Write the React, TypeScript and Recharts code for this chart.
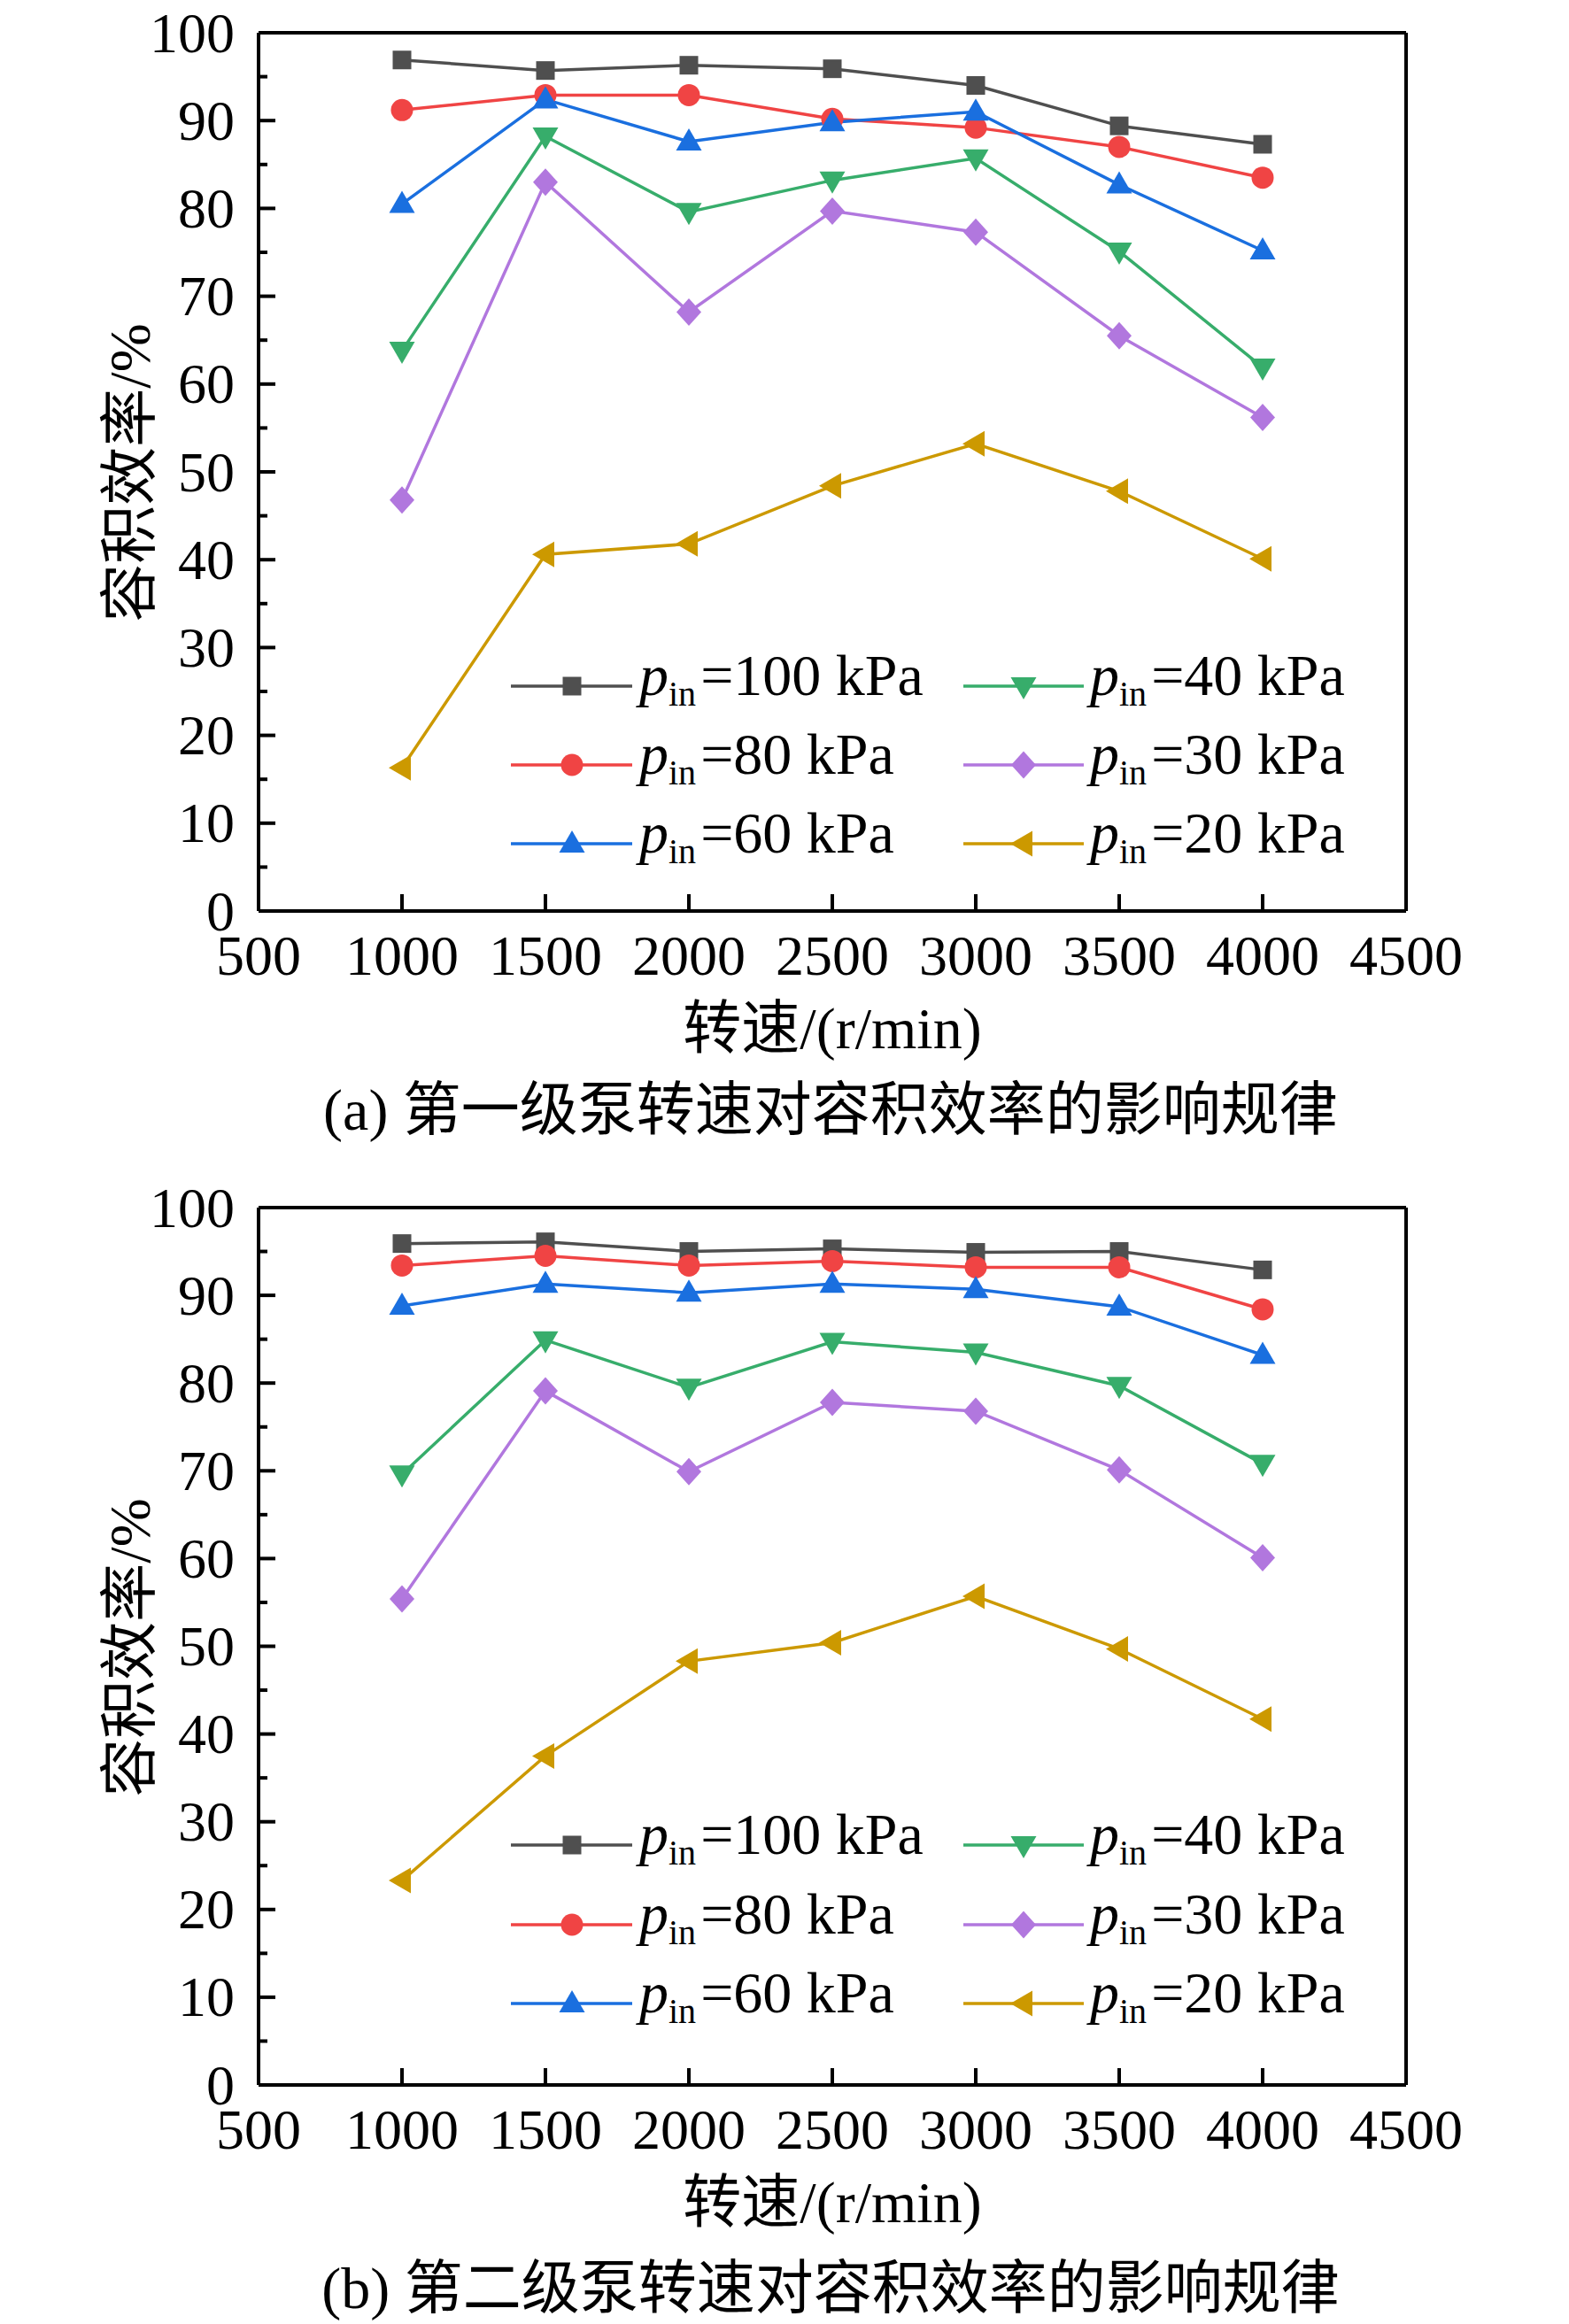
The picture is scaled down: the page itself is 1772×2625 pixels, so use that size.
import React from 'react';
import { LineChart, Line, XAxis, YAxis, ReferenceLine, Legend } from 'recharts';

// ---------- data ----------
const speeds = [1000, 1500, 2000, 2500, 3000, 3500, 4000];
const xTicks = [500, 1000, 1500, 2000, 2500, 3000, 3500, 4000, 4500];
const yTicks = [0, 5, 10, 15, 20, 25, 30, 35, 40, 45, 50, 55, 60, 65, 70, 75, 80, 85, 90, 95, 100];
const pressureLabels = ['100', '80', '60', '40', '30', '20'];

// (a) first stage pump
const stage1P100 = [96.9, 95.7, 96.3, 95.9, 94.0, 89.4, 87.3];
const stage1P80 = [91.2, 92.9, 92.9, 90.2, 89.2, 87.0, 83.5];
const stage1P60 = [80.5, 92.4, 87.6, 89.8, 91.0, 82.7, 75.2];
const stage1P40 = [63.8, 88.2, 79.6, 83.2, 85.7, 75.1, 61.9];
const stage1P30 = [46.8, 83.0, 68.2, 79.7, 77.3, 65.5, 56.2];
const stage1P20 = [16.3, 40.6, 41.8, 48.4, 53.2, 47.8, 40.1];

// (b) second stage pump
const stage2P100 = [95.9, 96.1, 95.0, 95.3, 94.9, 95.0, 92.9];
const stage2P80 = [93.4, 94.5, 93.4, 93.9, 93.2, 93.2, 88.4];
const stage2P60 = [88.8, 91.3, 90.3, 91.3, 90.7, 88.7, 83.2];
const stage2P40 = [69.6, 84.9, 79.5, 84.7, 83.5, 79.7, 70.8];
const stage2P30 = [55.4, 79.1, 69.9, 77.8, 76.8, 70.1, 60.1];
const stage2P20 = [23.3, 37.5, 48.3, 50.4, 55.7, 49.7, 41.7];

const yTitle = '容积效率/%';
const xTitle = '转速/(r/min)';
const captionA = '(a) 第一级泵转速对容积效率的影响规律';
const captionB = '(b) 第二级泵转速对容积效率的影响规律';

// ---------- styles ----------
const FONT = "'Liberation Serif', 'Times New Roman', 'Noto Sans CJK SC', serif";
const seriesKeys = ['p100', 'p80', 'p60', 'p40', 'p30', 'p20'];
const seriesColors = ['#4f4f4f', '#f04444', '#1a6fdf', '#37ad6b', '#b177de', '#cc9900'];
const seriesShapes = ['square', 'circle', 'up', 'down', 'diamond', 'left'];

function buildRows(cols: number[][]) {
  return speeds.map((s, i) => {
    const row: Record<string, number> = { speed: s };
    seriesKeys.forEach((k, j) => {
      row[k] = cols[j][i];
    });
    return row;
  });
}

const rowsA = buildRows([stage1P100, stage1P80, stage1P60, stage1P40, stage1P30, stage1P20]);
const rowsB = buildRows([stage2P100, stage2P80, stage2P60, stage2P40, stage2P30, stage2P20]);

function Marker({ shape, cx, cy, color }: { shape: string; cx: number; cy: number; color: string }) {
  switch (shape) {
    case 'square':
      return <rect x={cx - 10.5} y={cy - 10.5} width={21} height={21} fill={color} />;
    case 'circle':
      return <circle cx={cx} cy={cy} r={12.5} fill={color} />;
    case 'up':
      return <polygon points={`${cx},${cy - 15} ${cx - 14.5},${cy + 10} ${cx + 14.5},${cy + 10}`} fill={color} />;
    case 'down':
      return <polygon points={`${cx},${cy + 15} ${cx - 14.5},${cy - 10} ${cx + 14.5},${cy - 10}`} fill={color} />;
    case 'diamond':
      return <polygon points={`${cx},${cy - 15.5} ${cx + 14},${cy} ${cx},${cy + 15.5} ${cx - 14},${cy}`} fill={color} />;
    case 'left':
      return <polygon points={`${cx - 15},${cy} ${cx + 10},${cy - 14.5} ${cx + 10},${cy + 14.5}`} fill={color} />;
    default:
      return null;
  }
}

const makeDot = (shape: string, color: string) => (props: any) => {
  const { cx, cy, index } = props;
  if (cx == null || cy == null) return <g key={`${shape}-${index}`} />;
  return (
    <g key={`${shape}-${index}`}>
      <Marker shape={shape} cx={cx} cy={cy} color={color} />
    </g>
  );
};

const XTick = (props: any) => {
  const { x, y, payload } = props;
  return (
    <g>
      <line x1={x} x2={x} y1={y} y2={y - 19} stroke="#000" strokeWidth={4} />
      <text x={x} y={y + 50} textAnchor="middle" dominantBaseline="central" fontSize={64} fontFamily={FONT} fill="#000">
        {payload.value}
      </text>
    </g>
  );
};

const YTick = (props: any) => {
  const { x, y, payload } = props;
  const major = payload.value % 10 === 0;
  return (
    <g>
      <line x1={x} x2={x + (major ? 19 : 10)} y1={y} y2={y} stroke="#000" strokeWidth={4} />
      {major ? (
        <text x={x - 27} y={y} textAnchor="end" dominantBaseline="central" fontSize={64} fontFamily={FONT} fill="#000">
          {payload.value}
        </text>
      ) : null}
    </g>
  );
};

const LEG_LEFT = 560;
const LegendBox = ({ rowYs }: { rowYs: number[] }) => {
  const cols = [
    { lineX1: 577, lineX2: 714, markX: 646, textX: 722 },
    { lineX1: 1088, lineX2: 1224, markX: 1156, textX: 1231 },
  ];
  return (
    <svg width={1000} height={320} style={{ overflow: 'visible', display: 'block' }}>
      {seriesKeys.map((k, i) => {
        const c = cols[Math.floor(i / 3)];
        const ry = rowYs[i % 3];
        const color = seriesColors[i];
        return (
          <g key={k}>
            <line x1={c.lineX1 - LEG_LEFT} x2={c.lineX2 - LEG_LEFT} y1={ry} y2={ry} stroke={color} strokeWidth={3.5} />
            <Marker shape={seriesShapes[i]} cx={c.markX - LEG_LEFT} cy={ry} color={color} />
            <text x={c.textX - LEG_LEFT} y={ry + 10} fontSize={66} fontFamily={FONT} fill="#000">
              <tspan fontStyle="italic">p</tspan>
              <tspan fontSize={40} dy={12}>in</tspan>
              <tspan dy={-12} dx={5}>{`=${pressureLabels[i]} kPa`}</tspan>
            </text>
          </g>
        );
      })}
    </svg>
  );
};

function Panel({ rows, height, bottom, legTop, rowYs }: { rows: any[]; height: number; bottom: number; legTop: number; rowYs: number[] }) {
  return (
    <LineChart width={1772} height={height} data={rows} margin={{ top: 37, right: 184, bottom, left: 0 }}>
      <XAxis
        dataKey="speed"
        type="number"
        domain={[500, 4500]}
        ticks={xTicks}
        interval={0}
        tickSize={0}
        tickMargin={0}
        tickLine={false}
        axisLine={{ stroke: '#000', strokeWidth: 4 }}
        tick={<XTick />}
        height={60}
      />
      <YAxis
        type="number"
        domain={[0, 100]}
        ticks={yTicks}
        interval={0}
        tickSize={0}
        tickMargin={0}
        tickLine={false}
        axisLine={{ stroke: '#000', strokeWidth: 4 }}
        tick={<YTick />}
        width={292}
      />
      <ReferenceLine y={100} stroke="#000" strokeWidth={4} />
      <ReferenceLine x={4500} stroke="#000" strokeWidth={4} />
      {seriesKeys.map((k, i) => (
        <Line
          key={k}
          type="linear"
          dataKey={k}
          name={`pin=${pressureLabels[i]} kPa`}
          stroke={seriesColors[i]}
          strokeWidth={3.5}
          dot={makeDot(seriesShapes[i], seriesColors[i])}
          activeDot={false}
          isAnimationActive={false}
        />
      ))}
      <Legend
        layout="vertical"
        verticalAlign="middle"
        align="center"
        wrapperStyle={{ position: 'absolute', left: LEG_LEFT, top: legTop, width: 1000, height: 320 }}
        content={() => <LegendBox rowYs={rowYs} />}
      />
    </LineChart>
  );
}

export default function App() {
  const textProps = { fontSize: 66, fontFamily: FONT, fill: '#000', textAnchor: 'middle' as const, dominantBaseline: 'central' as const };
  return (
    <div style={{ position: 'absolute', left: 0, top: 0, width: 1772, height: 2625, background: '#fff' }}>
      <div style={{ position: 'absolute', left: 0, top: 0 }}>
        <Panel rows={rowsA} height={1327} bottom={238} legTop={700} rowYs={[75, 164, 253]} />
      </div>
      <div style={{ position: 'absolute', left: 0, top: 1327 }}>
        <Panel rows={rowsB} height={1298} bottom={210} legTop={680} rowYs={[77, 167, 256]} />
      </div>
      <svg width={1772} height={2625} style={{ position: 'absolute', left: 0, top: 0, pointerEvents: 'none' }}>
        <text {...textProps} transform="translate(146,534) rotate(-90)">{yTitle}</text>
        <text {...textProps} transform="translate(146,1861) rotate(-90)">{yTitle}</text>
        <text {...textProps} x={940} y={1161}>{xTitle}</text>
        <text {...textProps} x={940} y={2487}>{xTitle}</text>
        <text {...textProps} x={938} y={1253}>{captionA}</text>
        <text {...textProps} x={938} y={2584}>{captionB}</text>
      </svg>
    </div>
  );
}
